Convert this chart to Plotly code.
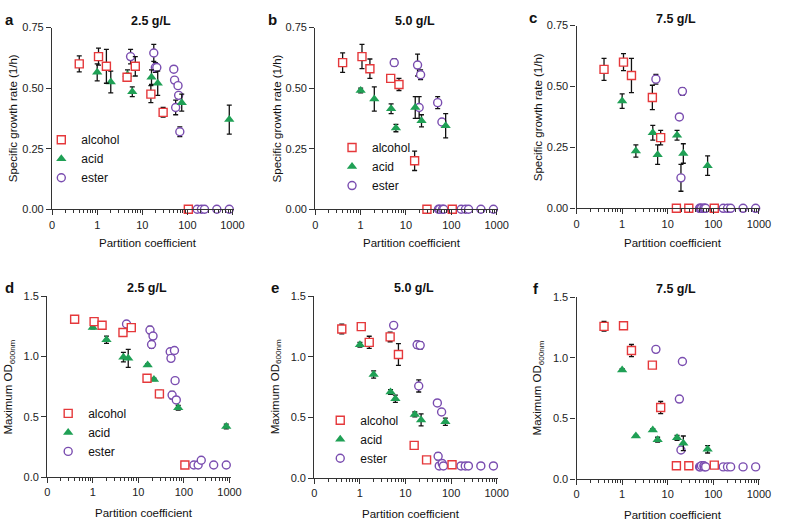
import plotly.graph_objects as go

# ---------------- data ----------------
alc_x = [0.4, 1.07, 1.6, 4.6, 7.0, 15.5, 29, 105]
acid_x = [1.0, 2.0, 4.7, 6.0, 16, 22, 75, 850]
ester_x = [5.5, 18, 19.5, 21, 50, 52, 55, 62, 64, 68, 165, 205, 240, 450, 850]

# specific growth rate (1/h)
a_alc_y = [0.60, 0.63, 0.59, 0.545, 0.59, 0.475, 0.40, 0.0]
a_alc_e = [0.033, 0.035, 0.07, 0.015, 0.04, 0.035, 0.02, 0]
a_acid_y = [0.565, 0.525, 0.555, 0.485, 0.545, 0.52, 0.44, 0.37]
a_acid_e = [0.035, 0.045, 0.02, 0.02, 0.03, 0.05, 0.035, 0.06]
a_est_y = [0.63, 0.645, 0.585, 0.585, 0.578, 0.533, 0.42, 0.51, 0.47, 0.32, 0, 0, 0, 0, 0]
a_est_e = [0.03, 0.035, 0.02, 0.005, 0.01, 0.01, 0.03, 0.01, 0.01, 0.02, 0, 0, 0, 0, 0]

b_alc_y = [0.605, 0.63, 0.58, 0.54, 0.515, 0.20, 0.0, 0.0]
b_alc_e = [0.04, 0.05, 0.04, 0.005, 0.025, 0.04, 0, 0]
b_acid_y = [0.49, 0.455, 0.415, 0.335, 0.42, 0.365, 0.345, None]
b_acid_e = [0.01, 0.05, 0.02, 0.015, 0.045, 0.025, 0.05, 0]
b_est_y = [0.605, 0.595, 0.42, 0.555, 0.44, 0, 0, 0.36, 0, 0, 0, 0, 0, 0, 0]
b_est_e = [0.015, 0.045, 0.045, 0.02, 0.025, 0, 0, 0.005, 0, 0, 0, 0, 0, 0, 0]

c_alc_y = [0.57, 0.60, 0.545, 0.455, 0.29, 0.0, 0.0, 0.0]
c_alc_e = [0.045, 0.035, 0.07, 0.05, 0.03, 0, 0, 0]
c_acid_y = [0.44, 0.235, 0.31, 0.22, 0.30, 0.225, 0.175, None]
c_acid_e = [0.03, 0.025, 0.03, 0.04, 0.02, 0.04, 0.04, 0]
c_est_y = [0.53, 0.375, 0.125, 0.48, 0, 0, 0, 0, 0, 0, 0, 0, 0, 0, 0]
c_est_e = [0.02, 0.005, 0.055, 0.015, 0, 0, 0, 0, 0, 0, 0, 0, 0, 0, 0]

# maximum OD600nm
d_alc_y = [1.31, 1.29, 1.26, 1.20, 1.24, 0.82, 0.69, 0.10]
d_alc_e = [0.03, 0.03, 0.03, 0.02, 0.02, 0.03, 0.03, 0]
d_acid_y = [1.24, 1.14, 0.995, 0.985, 0.93, 0.81, 0.575, 0.42]
d_acid_e = [0.01, 0.03, 0.04, 0.075, 0.01, 0.01, 0.02, 0.02]
d_est_y = [1.27, 1.22, 1.10, 1.17, 1.04, 0.985, 0.68, 1.05, 0.80, 0.64, 0.10, 0.10, 0.14, 0.10, 0.10]
d_est_e = [0.01, 0.03, 0.03, 0.01, 0.01, 0.01, 0.03, 0.01, 0.01, 0.02, 0, 0, 0.02, 0, 0]

e_alc_y = [1.23, 1.25, 1.12, 1.165, 1.02, 0.27, 0.15, 0.11]
e_alc_e = [0.04, 0.02, 0.05, 0.04, 0.09, 0.01, 0.01, 0]
e_acid_y = [1.10, 0.855, 0.71, 0.655, 0.525, 0.48, 0.465, None]
e_acid_e = [0.02, 0.03, 0.02, 0.03, 0.02, 0.05, 0.03, 0]
e_est_y = [1.26, 1.10, 0.76, 1.095, 0.62, 0.18, 0.10, 0.545, 0.12, 0.10, 0.10, 0.10, 0.10, 0.10, 0.10]
e_est_e = [0.01, 0.03, 0.05, 0.03, 0.01, 0.03, 0, 0.01, 0, 0, 0, 0, 0, 0, 0]

f_alc_y = [1.26, 1.265, 1.06, 0.94, 0.59, 0.11, 0.11, 0.115]
f_alc_e = [0.04, 0.02, 0.05, 0.02, 0.05, 0, 0, 0]
f_acid_y = [0.90, 0.355, 0.405, 0.325, 0.34, 0.295, 0.245, None]
f_acid_e = [0.01, 0.005, 0.01, 0.02, 0.02, 0.06, 0.03, 0]
f_est_y = [1.07, 0.66, 0.24, 0.97, 0.10, 0.10, 0.11, 0.11, 0.10, 0.10, 0.10, 0.10, 0.10, 0.10, 0.10]
f_est_e = [0.02, 0.01, 0.01, 0.01, 0, 0, 0, 0, 0, 0, 0, 0, 0, 0, 0]

x_tickvals = [0.1, 1, 10, 100, 1000]
x_ticktext = ["0", "1", "10", "100", "1000"]
top_tickvals = [0, 0.25, 0.5, 0.75]
top_ticktext = ["0.00", "0.25", "0.50", "0.75"]
bot_tickvals = [0, 0.5, 1.0, 1.5]
bot_ticktext = ["0.0", "0.5", "1.0", "1.5"]
panel_letters = ["a", "b", "c", "d", "e", "f"]
panel_titles = ["2.5 g/L", "5.0 g/L", "7.5 g/L", "2.5 g/L", "5.0 g/L", "7.5 g/L"]

# ---------------- layout helpers ----------------
W, H = 785, 530
FONT = "Arial, Liberation Sans, sans-serif"
RED, GREEN, PURPLE = "#e5383b", "#1fa055", "#7a4db0"
AX = "#333333"

def px(x):
    return x / W

def py(y):
    return 1 - y / H

# pixel boxes: (left, right, top, bottom)
boxes = [
    (50, 235, 22, 208),
    (318, 504, 22, 208),
    (584, 771, 20, 207),
    (45, 232, 297, 482),
    (317, 504, 297, 483),
    (584, 771, 298, 484),
]

panels = [
    (a_alc_y, a_alc_e, a_acid_y, a_acid_e, a_est_y, a_est_e),
    (b_alc_y, b_alc_e, b_acid_y, b_acid_e, b_est_y, b_est_e),
    (c_alc_y, c_alc_e, c_acid_y, c_acid_e, c_est_y, c_est_e),
    (d_alc_y, d_alc_e, d_acid_y, d_acid_e, d_est_y, d_est_e),
    (e_alc_y, e_alc_e, e_acid_y, e_acid_e, e_est_y, e_est_e),
    (f_alc_y, f_alc_e, f_acid_y, f_acid_e, f_est_y, f_est_e),
]

legend_for_panel = {0: "legend", 1: "legend2", 3: "legend3", 4: "legend4"}

fig = go.Figure()
layout = dict(
    width=W, height=H, margin=dict(l=0, r=0, t=0, b=0),
    paper_bgcolor="white", plot_bgcolor="white",
    font=dict(family=FONT, size=11, color="#222"),
    annotations=[],
)

def err(arr):
    return dict(type="data", array=arr, visible=True, color="#111", thickness=1.3, width=2.5)

for i, (alc_y, alc_e, acid_y, acid_e, est_y, est_e) in enumerate(panels):
    n = "" if i == 0 else str(i + 1)
    xa, ya = "x" + n, "y" + n
    leg = legend_for_panel.get(i)
    show = leg is not None
    common = dict(mode="markers", xaxis=xa, yaxis=ya, cliponaxis=False,
                  showlegend=show, legend=leg if leg else "legend")
    fig.add_trace(go.Scatter(x=ester_x, y=est_y, error_y=err(est_e), name="ester",
                             marker=dict(symbol="circle", size=8, color="white",
                                         line=dict(color=PURPLE, width=1.4)),
                             legendrank=3, **common))
    fig.add_trace(go.Scatter(x=acid_x, y=acid_y, error_y=err(acid_e), name="acid",
                             marker=dict(symbol="triangle-up", size=9, color=GREEN,
                                         line=dict(width=0)),
                             legendrank=2, **common))
    fig.add_trace(go.Scatter(x=alc_x, y=alc_y, error_y=err(alc_e), name="alcohol",
                             marker=dict(symbol="square", size=8, color="white",
                                         line=dict(color=RED, width=1.4)),
                             legendrank=1, **common))

    l, r, t, b = boxes[i]
    top = i < 3
    layout["xaxis" + n] = dict(
        domain=[px(l), px(r)], anchor=ya, type="log", range=[-1, 3.03],
        tickvals=x_tickvals, ticktext=x_ticktext, ticks="outside", ticklen=5,
        tickwidth=1.2, tickcolor=AX, showline=True, linecolor=AX, linewidth=1.3,
        showgrid=False, zeroline=False, tickfont=dict(size=11, color="#222"),
        minor=dict(ticks="outside", ticklen=3, tickwidth=1, tickcolor=AX, dtick="D1", showgrid=False),
    )
    layout["yaxis" + n] = dict(
        domain=[py(b), py(t)], anchor=xa,
        range=[0, 0.75] if top else [0, 1.5],
        tickvals=top_tickvals if top else bot_tickvals,
        ticktext=top_ticktext if top else bot_ticktext,
        ticks="outside", ticklen=5, tickwidth=1.2, tickcolor=AX,
        showline=True, linecolor=AX, linewidth=1.3, showgrid=False, zeroline=False,
        tickfont=dict(size=11, color="#222"),
    )

    # panel letter
    layout["annotations"].append(dict(
        text="<b>%s</b>" % panel_letters[i], xref="paper", yref="paper",
        x=px(max(l - 50, 0) if top else max(l - 46, 0)), y=py(t - 8 if top else t - 9),
        xanchor="left", yanchor="middle",
        showarrow=False, font=dict(size=15, color="#111")))
    # panel title
    layout["annotations"].append(dict(
        text="<b>%s</b>" % panel_titles[i], xref="paper", yref="paper",
        x=px((l + r) / 2 + 8), y=py(t - 7 if top else t - 8), xanchor="center", yanchor="middle",
        showarrow=False, font=dict(size=12.5, color="#111")))
    # x title
    layout["annotations"].append(dict(
        text="Partition coefficient", xref="paper", yref="paper",
        x=px((l + r) / 2 + 5), y=py(b + 35 if top else b + 37), xanchor="center", yanchor="middle",
        showarrow=False, font=dict(size=11.5, color="#111")))
    # y title
    ytitle = "Specific growth rate (1/h)" if top else "Maximum OD<sub>600nm</sub>"
    layout["annotations"].append(dict(
        text=ytitle, xref="paper", yref="paper", textangle=-90,
        x=px(l - 39), y=py((t + b) / 2), xanchor="center", yanchor="middle",
        showarrow=False, font=dict(size=11.5, color="#111")))

legend_pos = {"legend": (39, 122), "legend2": (335, 130), "legend3": (46, 402), "legend4": (323, 409)}
for k, (lx, ly) in legend_pos.items():
    layout[k] = dict(x=px(lx), y=py(ly), xanchor="left", yanchor="top",
                     bgcolor="rgba(0,0,0,0)", borderwidth=0, itemwidth=30,
                     font=dict(size=12, color="#111"), tracegroupgap=0,
                     traceorder="normal")

fig.update_layout(**layout)
fig.write_html("out.html", config={"displayModeBar": False},
               post_script="document.body.style.margin='0';document.body.style.overflow='hidden';")
